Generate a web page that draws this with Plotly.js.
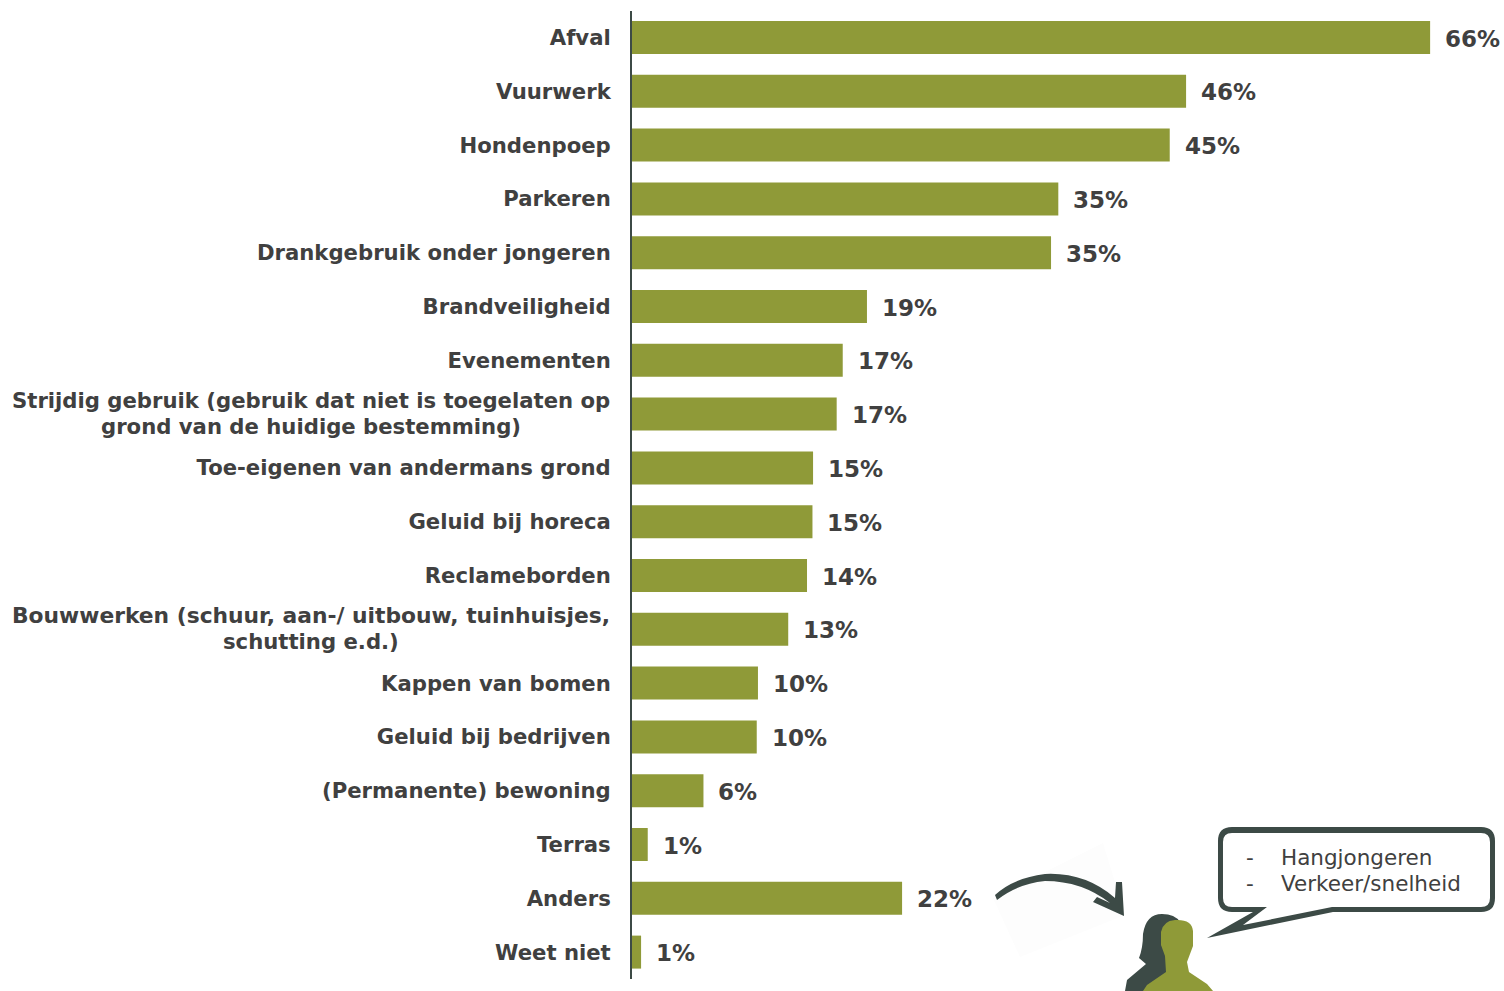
<!DOCTYPE html>
<html>
<head>
<meta charset="utf-8">
<script src="https://cdn.plot.ly/plotly-3.0.1.min.js"></script>
<style>html,body{margin:0;padding:0;background:#fff;overflow:hidden}#chart{width:1504px;height:991px}</style>
</head>
<body>
<div id="chart"></div>
<script>
var categories = ["Afval","Vuurwerk","Hondenpoep","Parkeren","Drankgebruik onder jongeren","Brandveiligheid","Evenementen",
  "Strijdig gebruik (gebruik dat niet is toegelaten op<br>grond van de huidige bestemming)",
  "Toe-eigenen van andermans grond","Geluid bij horeca","Reclameborden",
  "Bouwwerken (schuur, aan-/ uitbouw, tuinhuisjes,<br>schutting e.d.)",
  "Kappen van bomen","Geluid bij bedrijven","(Permanente) bewoning","Terras","Anders","Weet niet"];
var values = [65.9,45.75,44.4,35.2,34.6,19.4,17.4,16.9,14.95,14.9,14.45,12.9,10.4,10.3,5.9,1.3,22.3,0.75];
var valueLabels = ["66%","46%","45%","35%","35%","19%","17%","17%","15%","15%","14%","13%","10%","10%","6%","1%","22%","1%"];
var bubbleLines = ["Hangjongeren","Verkeer/snelheid"];

var W = 1504, H = 991, TEXT = "#404040", DARK = "#3c4a46", OLIVE = "#8f9a38";
var FONT = "'DejaVu Sans', Verdana, sans-serif";
var LABEL_SIZE = 21.2, VALUE_SIZE = 23, BUBBLE_SIZE = 21.5, WIDE_LINE_SIZE = 21.8;
function px(x){ return (x/W).toFixed(5); }
function py(y){ return (1-y/H).toFixed(5); }
function P(x,y){ return px(x)+","+py(y); }
function pathOf(cmds){
  return cmds.map(function(c){
    return c[0]+c.slice(1).map(function(p){return P(p[0],p[1]);}).join(" ");
  }).join(" ")+" Z";
}
function shape(path,fill,line,lw){
  return {type:"path",xref:"paper",yref:"paper",path:path,fillcolor:fill,layer:"above",
    line:{color:line||fill,width:lw||0}};
}
function bubble(l,t,r,b,k,t1,tip,t2){
  return pathOf([["M",[l+k,t]],["L",[r-k,t]],["Q",[r,t],[r,t+k]],["L",[r,b-k]],["Q",[r,b],[r-k,b]],
    ["L",[t2,b]],["L",tip],["L",[t1,b]],["L",[l+k,b]],["Q",[l,b],[l,b-k]],["L",[l,t+k]],["Q",[l,t],[l+k,t]]]);
}
var shapes = [
  shape(pathOf([["M",[993,898]],["L",[1103,843]],["L",[1125,915]],["L",[1020,957]]]),"#fdfdfd"),
  shape(pathOf([["M",[995,895]],["Q",[1013,878],[1045,874]],["Q",[1085,872],[1115,898]],
    ["L",[1116,882]],["L",[1122,882]],["L",[1124,916]],["L",[1093,902]],["L",[1097,897]],["L",[1110,903]],
    ["Q",[1082,881],[1045,881]],["Q",[1017,884],[997,900]]]),DARK),
  shape(bubble(1218,827,1495,912,14,1253,[1207,938],1333),DARK),
  shape(bubble(1223,833,1490,907,9,1267,[1243,925],1332),"#ffffff"),
  shape(pathOf([["M",[1125,991]],["L",[1127,980]],["L",[1146,964]],["L",[1139,958]],["Q",[1143,948],[1143,934]],
    ["Q",[1146,914],[1162,914]],["Q",[1175,914],[1180,922]],["L",[1185,991]]]),DARK),
  shape(pathOf([["M",[1143,991]],["L",[1147,985]],["L",[1166,972]],["L",[1165,956]],["L",[1161,945]],["L",[1161,932]],
    ["Q",[1163,921],[1175,920]],["Q",[1192,919],[1193,931]],["L",[1193,946]],["L",[1187,962]],
    ["L",[1189,972]],["L",[1207,984]],["L",[1213,991]]]),OLIVE)
];
var annotations = [];
categories.forEach(function(c,i){
  annotations.push({xref:"x",yref:"y",x:values[i],y:c,text:valueLabels[i],showarrow:false,xanchor:"left",
    xshift:13,yshift:-1,font:{family:FONT,size:VALUE_SIZE,color:TEXT,weight:700}});
  if(c.indexOf("<br>")>=0){
    c.split("<br>").forEach(function(line,k){
      annotations.push({xref:"paper",yref:"y",x:311/W,y:c,text:line,showarrow:false,xanchor:"center",
        yshift:k===0?14:-12,
        font:{family:FONT,size:(k===0&&line.length<50)?WIDE_LINE_SIZE:LABEL_SIZE,color:TEXT,weight:700}});
    });
  }
});
bubbleLines.forEach(function(t,i){
  var y = 1-(857+26*i)/H;
  annotations.push({xref:"paper",yref:"paper",x:1244/W,y:y,text:"-",showarrow:false,xanchor:"left",yanchor:"middle",font:{family:FONT,size:BUBBLE_SIZE,color:TEXT}});
  annotations.push({xref:"paper",yref:"paper",x:1279/W,y:y,text:t,showarrow:false,xanchor:"left",yanchor:"middle",font:{family:FONT,size:BUBBLE_SIZE,color:TEXT}});
});
Plotly.newPlot("chart",[{
  type:"bar",orientation:"h",y:categories,x:values,
  marker:{color:OLIVE,line:{width:0}},hoverinfo:"skip"
}],{
  width:W,height:H,margin:{l:0,r:0,t:0,b:0},paper_bgcolor:"#fff",plot_bgcolor:"#fff",
  showlegend:false,bargap:0.387,shapes:shapes,annotations:annotations,
  xaxis:{domain:[632/W,1],range:[0,72],visible:false,fixedrange:true},
  yaxis:{domain:[1-979/H,1-10.6/H],type:"category",autorange:false,range:[17.5,-0.5],
    categoryorder:"array",categoryarray:categories,tickmode:"array",tickvals:categories,
    ticktext:categories.map(function(c){return c.indexOf("<br>")>=0?" ":c;}),
    ticks:"",showgrid:false,zeroline:false,showline:true,linecolor:DARK,linewidth:2,
    ticklabelstandoff:15,automargin:false,fixedrange:true,
    tickfont:{family:FONT,size:LABEL_SIZE,color:TEXT,weight:700}}
},{displayModeBar:false,staticPlot:true});
</script>
</body>
</html>
